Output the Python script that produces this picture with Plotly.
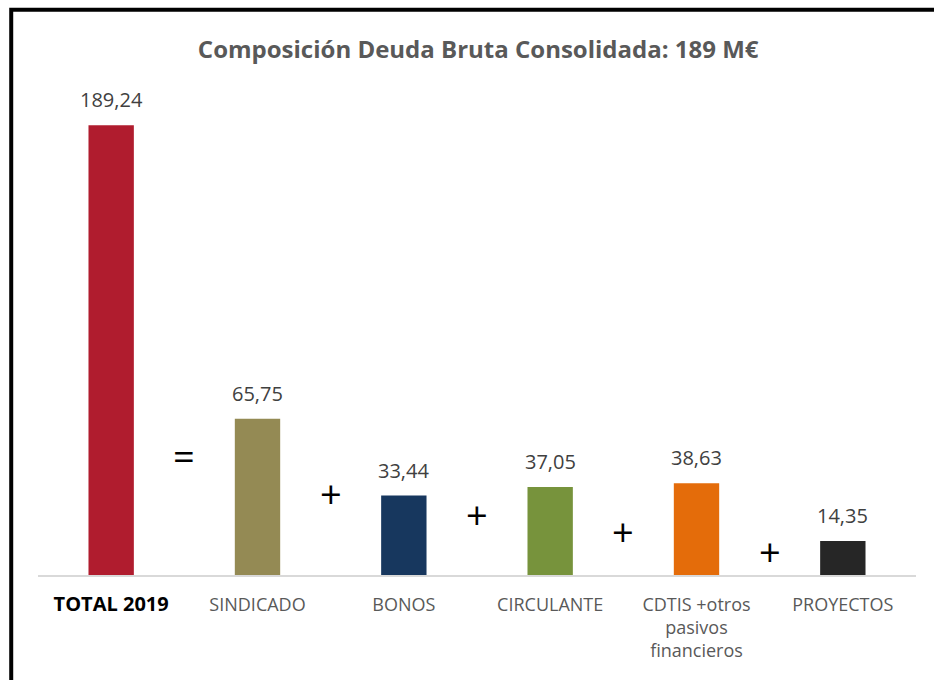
import plotly.graph_objects as go

categories = ["TOTAL 2019", "SINDICADO", "BONOS", "CIRCULANTE", "CDTIS +otros<br>pasivos<br>financieros", "PROYECTOS"]
values = [189.24, 65.75, 33.44, 37.05, 38.63, 14.35]
value_labels = ["189,24", "65,75", "33,44", "37,05", "38,63", "14,35"]
colors = ["#B01C2E", "#948A54", "#17375E", "#77933C", "#E46C0A", "#262626"]
operators = ["=", "+", "+", "+", "+"]
operator_levels = [50.5, 34.5, 25.6, 18.5, 10.1]

xpos = list(range(len(categories)))
tick_text = ["<span style='color:#000000;font-size:20px'><b>TOTAL 2019</b></span>"] + categories[1:]

fig = go.Figure()
fig.add_trace(go.Bar(
    x=xpos, y=values, marker=dict(color=colors, line=dict(width=0)),
    width=0.31, hoverinfo="skip", showlegend=False,
))

annotations = []
for i, (v, lab) in enumerate(zip(values, value_labels)):
    annotations.append(dict(x=i, y=v, xref="x", yref="y", text=lab, showarrow=False,
                            yanchor="bottom", yshift=10,
                            font=dict(family="Open Sans", size=20, color="#404040")))
for i, (op, lv) in enumerate(zip(operators, operator_levels)):
    annotations.append(dict(x=i + 0.5, y=lv, xref="x", yref="y", text=op, showarrow=False,
                            yanchor="middle",
                            font=dict(family="Open Sans", size=38, color="#000000")))

fig.update_layout(
    width=934, height=680,
    margin=dict(l=38, r=18, t=76, b=105),
    paper_bgcolor="white", plot_bgcolor="white",
    title=dict(text="<b>Composición Deuda Bruta Consolidada: 189 M€</b>",
               x=0.512, xanchor="center", y=0.927, yanchor="middle",
               font=dict(family="Open Sans", size=24, color="#595959")),
    xaxis=dict(tickmode="array", tickvals=xpos, ticktext=tick_text, range=[-0.5, 5.5],
               showgrid=False, zeroline=False, showline=True, linecolor="#D9D9D9", linewidth=2,
               ticks="", ticklabelstandoff=12,
               tickfont=dict(family="Open Sans", size=18, color="#595959")),
    yaxis=dict(range=[0, 210], visible=False, showgrid=False, zeroline=False),
    annotations=annotations,
    shapes=[dict(type="path", xref="paper", yref="paper",
                 path="M -0.0305,-0.3 L -0.0305,1.133 L 1.03,1.133",
                 line=dict(color="black", width=4), layer="above")],
)

fig.write_html("out.html", config={"displayModeBar": False},
               post_script="document.documentElement.style.overflow='hidden';document.body.style.margin='0';document.body.style.overflow='hidden';")
